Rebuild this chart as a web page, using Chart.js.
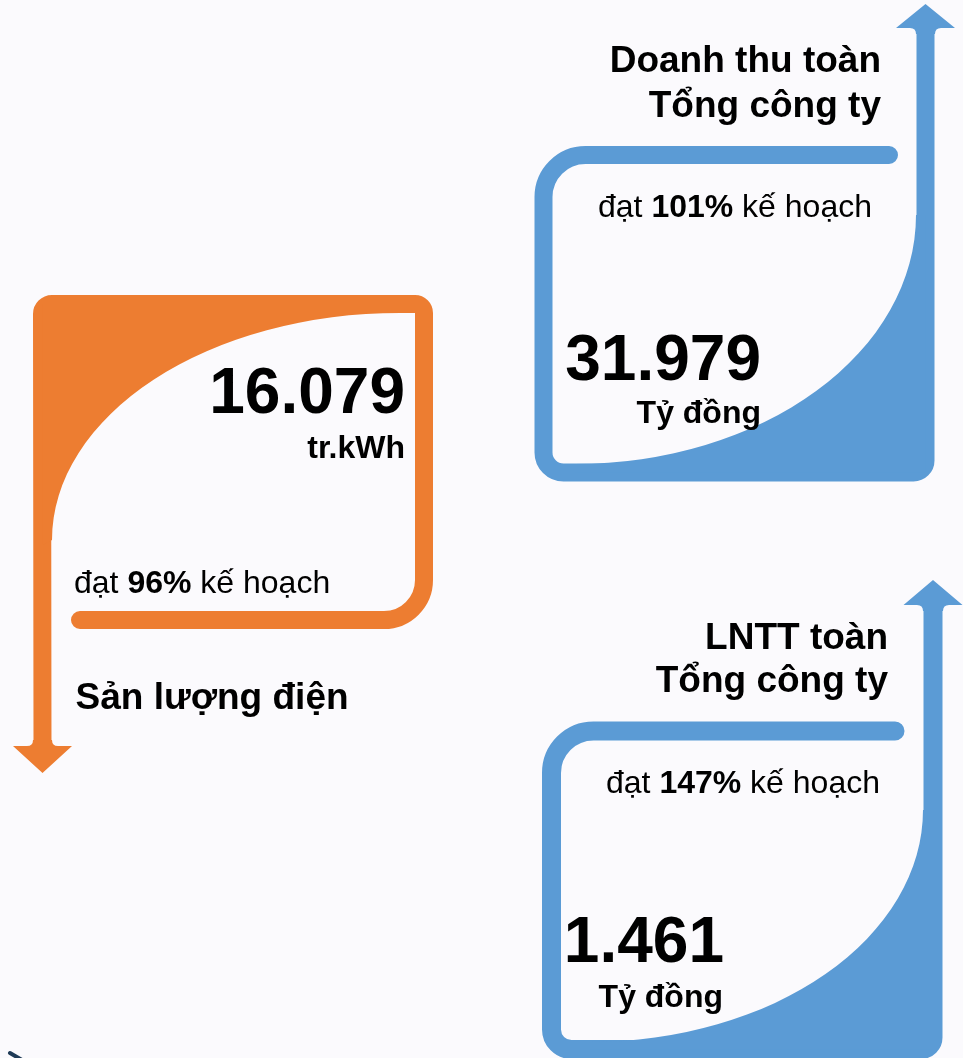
<!DOCTYPE html>
<html lang="vi">
<head>
<meta charset="utf-8">
<script src="https://cdn.jsdelivr.net/npm/chart.js@4.4.1/dist/chart.umd.min.js"></script>
<style>
html,body{margin:0;padding:0;background:#FBFAFD;}
canvas{display:block;}
</style>
</head>
<body>
<canvas id="c" width="963" height="1058"></canvas>
<script>
// ---- data ----
const categories = ['Sản lượng điện', 'Doanh thu toàn\nTổng công ty', 'LNTT toàn\nTổng công ty'];
const values = [16079, 31979, 1461];
const units = ['tr.kWh', 'Tỷ đồng', 'Tỷ đồng'];
const planPercent = [96, 101, 147];

// ---- layout / style (positions in scale units) ----
const FONT = "'Liberation Sans', Arial, sans-serif";
const BG = '#FBFAFD';
const panels = [
  { color: '#ED7D31', lw: 18,
    path: [['M',80,620],['L',384,620],['A',424,620,424,580,40],['L',424,313],['A',424,304,415,304,9],['L',52,304],['A',42,304,42,314,10],['L',42.5,748]],
    head: {cx:42.5, base:746, tip:773, h:29.5, s:9.5},
    fill: {type:'tl', x0:42.5, y0:304, ex:400, ey:540, rx:348, ry:227},
    title: {align:'left', x:75.5, y:[709], size:37},
    value: {align:'right', x:405, y:413, size:64},
    unit: {align:'right', x:405, y:458, size:32},
    plan: {x:74, y:593, size:32} },
  { color: '#5B9BD5', lw: 18,
    path: [['M',889,155],['L',585.5,155],['A',543.5,155,543.5,197,42],['L',543.5,452.5],['A',543.5,472.5,563.5,472.5,20],['L',913.5,472.5],['A',925.5,472.5,925.5,460.5,12],['L',925.5,30]],
    head: {cx:925.5, base:28, tip:4, h:29.5, s:9.5},
    fill: {type:'br', x1:925.5, y1:472.5, ex:575, ey:215, rx:341, ry:249},
    title: {align:'right', x:881, y:[72,117], size:37},
    value: {align:'right', x:761, y:380, size:64},
    unit: {align:'right', x:761, y:423, size:32},
    plan: {x:598, y:217, size:32} },
  { color: '#5B9BD5', lw: 19,
    path: [['M',895,731],['L',593.5,731],['A',551.5,731,551.5,773,42],['L',551.5,1029.5],['A',551.5,1049.5,571.5,1049.5,20],['L',921,1049.5],['A',933,1049.5,933,1037.5,12],['L',933,607]],
    head: {cx:933, base:605, tip:580, h:29.5, s:10},
    fill: {type:'br', x1:933, y1:1049.5, ex:590, ey:810, rx:333, ry:232},
    title: {align:'right', x:888, y:[649,692], size:37},
    value: {align:'right', x:724, y:962, size:64},
    unit: {align:'right', x:723, y:1007, size:32},
    plan: {x:606, y:793, size:32} }
];

function fmt(n){ return String(n).replace(/\B(?=(\d{3})+(?!\d))/g, '.'); }

const infographic = {
  id: 'infographic',
  beforeDraw(chart){
    const c = chart.ctx;
    c.save(); c.fillStyle = BG; c.fillRect(0,0,chart.width,chart.height); c.restore();
  },
  afterDraw(chart){
    const c = chart.ctx, xs = chart.scales.x, ys = chart.scales.y;
    const X = v => xs.getPixelForValue(v), Y = v => ys.getPixelForValue(v);
    const DX = v => X(v) - X(0), DY = v => Y(v) - Y(0);
    c.save();
    panels.forEach((p, i) => {
      // frame stroke
      c.strokeStyle = p.color; c.fillStyle = p.color;
      c.lineWidth = p.lw; c.lineCap = 'round'; c.lineJoin = 'round';
      c.beginPath();
      p.path.forEach(s => {
        if (s[0]==='M') c.moveTo(X(s[1]), Y(s[2]));
        else if (s[0]==='L') c.lineTo(X(s[1]), Y(s[2]));
        else c.arcTo(X(s[1]), Y(s[2]), X(s[3]), Y(s[4]), DX(s[5]));
      });
      c.stroke();
      // filled corner
      const f = p.fill;
      c.beginPath();
      if (f.type === 'tl') {
        c.moveTo(X(f.x0), Y(f.ey + 5));
        c.lineTo(X(f.x0), Y(f.y0));
        c.lineTo(X(f.ex), Y(f.y0));
        c.lineTo(X(f.ex), Y(f.ey - f.ry));
        c.ellipse(X(f.ex), Y(f.ey), DX(f.rx), DY(f.ry), 0, -Math.PI/2, -Math.PI, true);
      } else {
        c.moveTo(X(f.x1), Y(f.ey));
        c.lineTo(X(f.ex + f.rx), Y(f.ey));
        c.ellipse(X(f.ex), Y(f.ey), DX(f.rx), DY(f.ry), 0, 0, Math.PI/2, false);
        c.lineTo(X(f.ex), Y(f.y1));
        c.lineTo(X(f.x1), Y(f.y1));
      }
      c.closePath(); c.fill();
      // arrow head with small fillets
      const h = p.head, d = h.tip > h.base ? -1 : 1, fl = 6;
      c.beginPath();
      c.moveTo(X(h.cx), Y(h.tip));
      c.lineTo(X(h.cx + h.h), Y(h.base));
      c.lineTo(X(h.cx + h.s + fl), Y(h.base));
      c.quadraticCurveTo(X(h.cx + h.s), Y(h.base), X(h.cx + h.s), Y(h.base + d*fl));
      c.lineTo(X(h.cx - h.s), Y(h.base + d*fl));
      c.quadraticCurveTo(X(h.cx - h.s), Y(h.base), X(h.cx - h.s - fl), Y(h.base));
      c.lineTo(X(h.cx - h.h), Y(h.base));
      c.closePath(); c.fill();

      // texts
      c.fillStyle = '#000'; c.textBaseline = 'alphabetic';
      const lines = categories[i].split('\n');
      c.font = `bold ${p.title.size}px ${FONT}`; c.textAlign = p.title.align;
      lines.forEach((t, k) => c.fillText(t, X(p.title.x), Y(p.title.y[k])));
      c.font = `bold ${p.value.size}px ${FONT}`; c.textAlign = p.value.align;
      c.fillText(fmt(values[i]), X(p.value.x), Y(p.value.y));
      c.font = `bold ${p.unit.size}px ${FONT}`; c.textAlign = p.unit.align;
      c.fillText(units[i], X(p.unit.x), Y(p.unit.y));
      // plan line with bold percent
      const parts = [['đạt ', false], [planPercent[i] + '%', true], [' kế hoạch', false]];
      c.textAlign = 'left';
      let x = X(p.plan.x);
      parts.forEach(([t, b]) => {
        c.font = `${b ? 'bold ' : ''}${p.plan.size}px ${FONT}`;
        c.fillText(t, x, Y(p.plan.y));
        x += c.measureText(t).width;
      });
    });
    // small dark stroke at bottom-left edge
    c.strokeStyle = '#1F3B57'; c.lineWidth = 4; c.lineCap = 'round';
    c.beginPath(); c.moveTo(X(10), Y(1053)); c.lineTo(X(22), Y(1060)); c.stroke();
    c.restore();
  }
};

new Chart(document.getElementById('c').getContext('2d'), {
  type: 'scatter',
  data: { datasets: [] },
  options: {
    responsive: false, animation: false, devicePixelRatio: 1,
    layout: { padding: 0 },
    plugins: { legend: { display: false }, tooltip: { enabled: false }, title: { display: false } },
    scales: {
      x: { type: 'linear', min: 0, max: 963, display: false },
      y: { type: 'linear', min: 0, max: 1058, reverse: true, display: false }
    }
  },
  plugins: [infographic]
});
</script>
</body>
</html>
